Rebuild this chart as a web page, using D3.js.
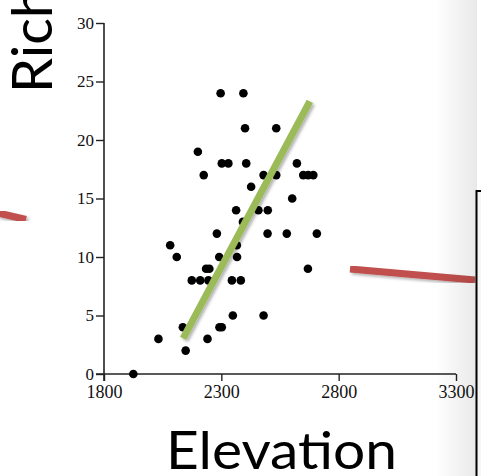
<!DOCTYPE html>
<html>
<head>
<meta charset="utf-8">
<script src="https://cdn.jsdelivr.net/npm/d3@7"></script>
<style>
  html, body { margin: 0; padding: 0; background: #fff; }
  svg { display: block; }
</style>
</head>
<body>
<svg id="chart" width="481" height="476"></svg>
<script>
// data
var elevation = [2297, 2394, 2401, 2534, 2200, 2302, 2330, 2406, 2622, 2225,
                 2480, 2534, 2649, 2670, 2692, 2427, 2602, 2363, 2458, 2498,
                 2392, 2281, 2497, 2579, 2707, 2082, 2366, 2110, 2291, 2367,
                 2235, 2249, 2669, 2174, 2210, 2245, 2345, 2383, 2349, 2480,
                 2136, 2292, 2302, 2032, 2241, 2148, 1925];
var richness = [24, 24, 21, 21, 19, 18, 18, 18, 18, 17,
                17, 17, 17, 17, 17, 16, 15, 14, 14, 14,
                13, 12, 12, 12, 12, 11, 11, 10, 10, 10,
                9, 9, 9, 8, 8, 8, 8, 8, 5, 5,
                4, 4, 4, 3, 3, 2, 0];
var trendX = [2137, 2677];
var trendY = [3.05, 23.3];
var xTicks = [1800, 2300, 2800, 3300];
var yTicks = [0, 5, 10, 15, 20, 25, 30];

var svg = d3.select("#chart");

// shadows for the slide shapes
var defs = svg.append("defs");
var f = defs.append("filter").attr("id", "shadow")
    .attr("x", "-20%").attr("y", "-20%").attr("width", "140%").attr("height", "140%");
f.append("feDropShadow").attr("dx", 2).attr("dy", 2)
    .attr("stdDeviation", 1.5).attr("flood-color", "#000").attr("flood-opacity", 0.3);

var grad = defs.append("linearGradient").attr("id", "boxShade")
    .attr("x1", 0).attr("x2", 1).attr("y1", 0).attr("y2", 0);
grad.append("stop").attr("offset", "0%").attr("stop-color", "#000").attr("stop-opacity", 0);
grad.append("stop").attr("offset", "100%").attr("stop-color", "#000").attr("stop-opacity", 0.09);

var x = d3.scaleLinear().domain([1800, 3300]).range([104, 456]);
var y = d3.scaleLinear().domain([0, 30]).range([374, 23]);

// axes
var xAxis = svg.append("g")
    .attr("transform", "translate(0,374)")
    .call(d3.axisBottom(x).tickValues(xTicks).tickFormat(d3.format("d"))
      .tickSize(7).tickPadding(4).tickSizeOuter(0));
var yAxis = svg.append("g")
    .attr("transform", "translate(104,0)")
    .call(d3.axisLeft(y).tickValues(yTicks).tickFormat(d3.format("d"))
      .tickSize(8).tickPadding(2).tickSizeOuter(0));

[xAxis, yAxis].forEach(function (g) {
  g.select(".domain").attr("stroke", "#222").attr("stroke-width", 1.6);
  g.selectAll(".tick line").attr("stroke", "#222").attr("stroke-width", 1.4);
  g.selectAll(".tick text")
    .attr("fill", "#111")
    .style("font-family", "'Liberation Serif', 'DejaVu Serif', serif");
});
xAxis.selectAll(".tick text").style("font-size", "18px");
yAxis.selectAll(".tick text").style("font-size", "17px");
// let the x axis line run a bit left past the y axis like the original
xAxis.select(".domain").attr("d", "M96,0H456");
yAxis.select(".domain").attr("d", "M0,23V381");

// points
svg.append("g")
  .selectAll("circle")
  .data(elevation)
  .join("circle")
    .attr("cx", function (d) { return x(d); })
    .attr("cy", function (d, i) { return y(richness[i]); })
    .attr("r", 4.3)
    .attr("fill", "#000");

// trend line
svg.append("line")
    .attr("x1", x(trendX[0])).attr("y1", y(trendY[0]))
    .attr("x2", x(trendX[1])).attr("y2", y(trendY[1]))
    .attr("stroke", "#9bbb59")
    .attr("stroke-width", 7)
    .attr("filter", "url(#shadow)");

// slide connectors
svg.append("line")
    .attr("x1", -2).attr("y1", 213).attr("x2", 26).attr("y2", 219.5)
    .attr("stroke", "#c0504d").attr("stroke-width", 7)
    .attr("filter", "url(#shadow)");
svg.append("line")
    .attr("x1", 350).attr("y1", 269).attr("x2", 475).attr("y2", 280)
    .attr("stroke", "#c0504d").attr("stroke-width", 7)
    .attr("filter", "url(#shadow)");

// box at the right edge with its shade
svg.append("rect")
    .attr("x", 436).attr("y", 0).attr("width", 41).attr("height", 476)
    .attr("fill", "url(#boxShade)");
svg.append("rect")
    .attr("x", 476.5).attr("y", 191).attr("width", 10).attr("height", 300)
    .attr("fill", "#f5f5f5").attr("stroke", "#000").attr("stroke-width", 2);

// slide titles
svg.append("text")
    .attr("x", 166).attr("y", 469)
    .attr("textLength", 231).attr("lengthAdjust", "spacingAndGlyphs")
    .style("font-family", "Lato, 'Open Sans', sans-serif")
    .style("font-size", "53px")
    .attr("fill", "#000")
    .text("Elevation");

svg.append("text")
    .attr("transform", "translate(52,93) rotate(-90)")
    .style("font-family", "Lato, 'Open Sans', sans-serif")
    .style("font-size", "56px")
    .attr("fill", "#000")
    .text("Richness");
</script>
</body>
</html>
